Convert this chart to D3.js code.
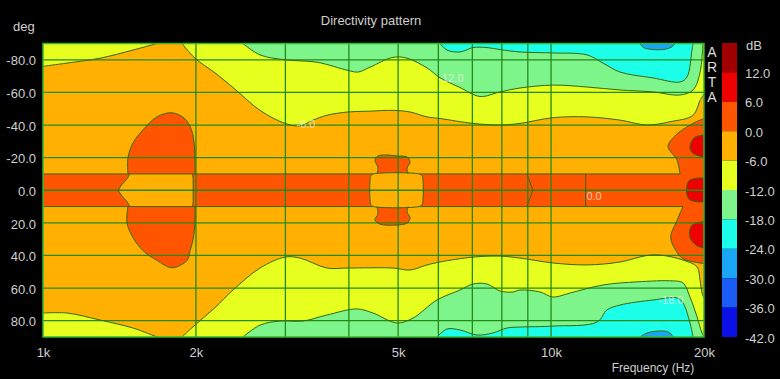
<!DOCTYPE html>
<html><head><meta charset="utf-8">
<script src="https://cdn.jsdelivr.net/npm/d3@7"></script>
<style>html,body{margin:0;padding:0;background:#000;}svg{display:block;}</style>
</head><body>
<svg id="c" width="780" height="379"></svg>
<script>
// ---------- data ----------
const freqTicks = [1000, 2000, 5000, 10000, 20000];
const gridFreqs = [2000, 3000, 4000, 5000, 6000, 7000, 8000, 9000, 10000];
const angleTicks = [-80, -60, -40, -20, 0, 20, 40, 60, 80];
const dbLevels = [18, 12, 6, 0, -6, -12, -18, -24, -30, -36, -42];
const dbColors = ["#a00000", "#ee0000", "#ff5500", "#ffb000", "#e6ff1e", "#7df58a", "#1cffe8", "#1aa5f5", "#1a5cf5", "#0a10e6"];
const artaLetters = ["A", "R", "T", "A"];

// contour boundaries [frequency Hz, angle deg]
const topYellowA = [[1000,-76],[1115,-78],[1295,-81],[1504,-86],[1676,-90]];
const topYellowB = [[1878,-90],[1991,-81],[2180,-72],[2366,-63],[2674,-49],[2995,-41],[3205,-39.5],[3400,-43],[3622,-46],[3984,-48],[4400,-48.5],[4885,-49],[5277,-48],[5700,-45],[6045,-44],[7021,-41],[7934,-40],[8687,-41],[10090,-44.5],[11770,-45],[13670,-43],[15450,-40],[17140,-42],[19030,-46],[19640,-55],[20000,-59]];
const botYellowA = [[1000,75.3],[1115,75.3],[1295,79.6],[1504,84.5],[1676,90]];
const botYellowB = [[1878,90],[1991,82.7],[2180,72],[2366,61.2],[2674,47.7],[2995,41],[3205,41.6],[3622,47.7],[3984,47.7],[4885,47.7],[5277,48.9],[5700,45.8],[6045,44],[7021,41],[7934,40.4],[8687,41.6],[10090,44.6],[11770,45.8],[13670,44],[15450,40],[16450,39.8],[18180,42.8],[19380,47],[19640,55],[19820,63],[20000,66]];
const topGreen = [[2475,-90],[2674,-83],[2995,-80],[3462,-78.5],[3984,-73.5],[4169,-72.5],[4402,-75.5],[4885,-81.5],[5206,-81],[5700,-75],[6045,-69],[6619,-63],[7247,-57.5],[7934,-60.3],[8687,-62.7],[10090,-64.5],[11770,-63.3],[13670,-61.5],[15870,-60.3],[17940,-58.4],[19030,-61.5],[19640,-72],[19900,-90]];
const botGreen = [[2475,90],[2674,82.7],[2927,80.2],[3249,80.2],[3622,76.5],[4150,72.8],[4462,75.3],[4975,81.4],[5349,78.4],[5963,67.3],[6619,61.2],[7021,57.5],[7480,57.5],[7934,61.8],[8416,62.4],[8687,61.2],[9512,62.4],[10090,65.5],[10900,63],[12650,58.1],[14760,56.2],[17380,55.6],[18180,56.8],[18770,65.5],[19380,77.7],[19820,87.5],[20000,90]];
const topCyan = [[6045,-90],[6240,-86],[6619,-84.8],[7021,-87.5],[7480,-87.5],[7934,-86.3],[8687,-84.8],[10090,-84.2],[11770,-83],[12650,-78],[13670,-72.5],[15870,-68.9],[17940,-66.4],[18520,-69.5],[18940,-86],[19030,-90]];
const botCyan = [[5963,90],[6240,85.1],[6619,85.7],[7149,88.8],[7686,87.5],[8190,84.5],[8687,83.9],[10090,83.3],[12320,80.8],[12880,73.4],[13670,70.4],[15870,67.3],[17700,66.1],[18180,69.1],[18770,81.4],[19030,90]];
const topBlue = [[14960,-90],[15200,-87.5],[15870,-86.3],[16800,-86.5],[17300,-88],[17540,-90]];
const botBlue = [[14960,90],[15450,87.5],[16610,86.3],[17140,87.5],[17380,90]];

const bandAngles = [-10, 10];
const bandSegTop = [[1000,1483],[1970,4470],[5500,17940]];
const bandSegBot = [[1000,1483],[1970,4470],[5500,18180]];
const fanTop = [[17940,-10],[17700,-18.5],[16990,-27],[17500,-33],[17940,-36],[19030,-41],[19640,-43],[20000,-44]];
const fanBot = [[18180,10],[17700,18.5],[17200,29],[17700,38],[18180,42],[19640,44.6],[20000,45]];
const lobe2kTop = [[1470,-10],[1470,-20],[1504,-29],[1573,-37],[1676,-45],[1795,-47.5],[1900,-44],[1960,-37],[1985,-28],[1991,-20],[1993,-10]];
const lobe2kBot = [[1470,10],[1463,20],[1504,29],[1573,37],[1676,43],[1795,47.5],[1921,43],[1947,37],[1975,30],[1991,20],[1993,10]];
const lobe5kTop = [[4543,-10],[4563,-14],[4502,-18.5],[4563,-21],[4754,-21.6],[4975,-21],[5206,-20.4],[5277,-17.3],[5206,-13.6],[5230,-10]];
const lobe5kBot = [[4543,10],[4563,14.5],[4502,18.2],[4600,20.7],[4975,21.3],[5206,20.1],[5277,17],[5206,13.3],[5230,10]];
const box2k = [[1483,-10],[1970,-10],[1975,-7],[1975,7],[1970,10],[1483,10],[1463,7],[1430,3.5],[1405,0],[1430,-3.5],[1463,-7]];
const box5k = [[4402,-6],[4420,-9],[4470,-10],[5500,-10],[5570,-9],[5597,-6],[5597,6],[5570,9],[5500,10],[4470,10],[4420,9],[4402,6]];
const spotTop = [[18770,-27],[19100,-32],[19640,-33.5],[20500,-33.5],[20500,-20.5],[19380,-21.5],[18900,-23.5]];
const spotMid = [[18520,-3],[18770,-6.3],[20500,-6.3],[20500,6],[18770,6],[18520,3]];
const spotBot = [[18770,24],[19030,21],[20500,20],[20500,35],[19380,34],[18770,29]];
const chevron9k = [[8966,-10],[9210,0],[8966,10]];
const line12k = [[11700,-10],[11700,10]];
const contourLabels = [{f:3293,a:-40.6,t:"-6.0"},{f:6354,a:-68.6,t:"-12.0"},{f:12150,a:3.5,t:"0.0"},{f:17220,a:67.3,t:"-18.0"}];

// ---------- drawing ----------
const FONT = '"Liberation Sans", Arial, sans-serif';
const TXT = "#cfcfcf";
const svg = d3.select("#c");
svg.append("rect").attr("width",780).attr("height",379).attr("fill","#000");

const x = d3.scaleLog().domain([1000,20000]).range([43,704]);
const y = d3.scaleLinear().domain([-90,90]).range([43.5,337]);
const color = d3.scaleThreshold().domain(dbLevels.slice(1,-1).reverse()).range(dbColors.slice().reverse());

const lineC = d3.line().x(d=>x(d[0])).y(d=>y(d[1])).curve(d3.curveCatmullRom.alpha(0.5));
const lineL = d3.line().x(d=>x(d[0])).y(d=>y(d[1]));
const lineCC = d3.line().x(d=>x(d[0])).y(d=>y(d[1])).curve(d3.curveCatmullRomClosed.alpha(0.5));
const lineLC = d3.line().x(d=>x(d[0])).y(d=>y(d[1])).curve(d3.curveLinearClosed);

svg.append("clipPath").attr("id","clip").append("rect")
  .attr("x",x(1000)).attr("y",y(-90)).attr("width",x(20000)-x(1000)).attr("height",y(90)-y(-90));

const gFill = svg.append("g").attr("clip-path","url(#clip)");
const gGrid = svg.append("g").attr("clip-path","url(#clip)");
const gLines = svg.append("g").attr("clip-path","url(#clip)");

const CONTOUR = "#35680f", GRID = "#258a1a";

gFill.append("rect").attr("x",x(1000)).attr("y",y(-90)).attr("width",x(20000)-x(1000)).attr("height",y(90)-y(-90)).attr("fill",color(-3));

const edgeRegions = [
  {pts:topYellowA,edge:-90,db:-9},{pts:topYellowB,edge:-90,db:-9},
  {pts:botYellowA,edge:90,db:-9},{pts:botYellowB,edge:90,db:-9},
  {pts:topGreen,edge:-90,db:-15},{pts:botGreen,edge:90,db:-15},
  {pts:topCyan,edge:-90,db:-21},{pts:botCyan,edge:90,db:-21},
  {pts:topBlue,edge:-90,db:-27},{pts:botBlue,edge:90,db:-27}
];
edgeRegions.forEach(r=>{
  const p = r.pts, a = p[0], b = p[p.length-1];
  const d = lineC(p) + `L${x(b[0])},${y(r.edge)}L${x(a[0])},${y(r.edge)}Z`;
  gFill.append("path").attr("d",d).attr("fill",color(r.db));
  gLines.append("path").attr("d",lineC(p)).attr("fill","none").attr("stroke",CONTOUR).attr("stroke-width",1);
});

gFill.append("rect").attr("x",x(1000)).attr("y",y(bandAngles[0])).attr("width",x(20000)-x(1000))
  .attr("height",y(bandAngles[1])-y(bandAngles[0])).attr("fill",color(3));
gFill.append("path").attr("d", lineC(fanTop) + lineC(fanBot.slice().reverse()).replace(/^M/,"L") + "Z").attr("fill",color(3));
gFill.append("path").attr("d", lineC(lobe2kTop) + lineC(lobe2kBot.slice().reverse()).replace(/^M/,"L") + "Z").attr("fill",color(3));
gFill.append("path").attr("d", lineC(lobe5kTop) + "Z").attr("fill",color(3));
gFill.append("path").attr("d", lineC(lobe5kBot) + "Z").attr("fill",color(3));
gFill.append("path").attr("d", lineLC(box2k)).attr("fill",color(-3));
gFill.append("path").attr("d", lineCC(box5k)).attr("fill",color(-3));
[spotTop, spotMid, spotBot].forEach(s=>{
  gFill.append("path").attr("d", lineCC(s)).attr("fill",color(9));
  gLines.append("path").attr("d", lineCC(s)).attr("fill","none").attr("stroke",CONTOUR).attr("stroke-width",1);
});

[fanTop, fanBot, lobe2kTop, lobe2kBot, lobe5kTop, lobe5kBot].forEach(p=>{
  gLines.append("path").attr("d",lineC(p)).attr("fill","none").attr("stroke",CONTOUR).attr("stroke-width",1);
});
gLines.append("path").attr("d",lineLC(box2k)).attr("fill","none").attr("stroke",CONTOUR).attr("stroke-width",1);
gLines.append("path").attr("d",lineCC(box5k)).attr("fill","none").attr("stroke",CONTOUR).attr("stroke-width",1);
bandSegTop.forEach(s=>gLines.append("path").attr("d",lineL([[s[0],bandAngles[0]],[s[1],bandAngles[0]]])).attr("stroke",CONTOUR).attr("stroke-width",1));
bandSegBot.forEach(s=>gLines.append("path").attr("d",lineL([[s[0],bandAngles[1]],[s[1],bandAngles[1]]])).attr("stroke",CONTOUR).attr("stroke-width",1));
[chevron9k, line12k].forEach(p=>gLines.append("path").attr("d",lineL(p)).attr("fill","none").attr("stroke",CONTOUR).attr("stroke-width",1));

gridFreqs.forEach(f=>gGrid.append("line").attr("x1",x(f)).attr("x2",x(f)).attr("y1",y(-90)).attr("y2",y(90)).attr("stroke",GRID).attr("stroke-width",1.3));
angleTicks.forEach(a=>gGrid.append("line").attr("x1",x(1000)).attr("x2",x(20000)).attr("y1",y(a)).attr("y2",y(a)).attr("stroke",GRID).attr("stroke-width",1.3));

contourLabels.forEach(l=>svg.append("text").attr("x",x(l.f)).attr("y",y(l.a)+4).attr("text-anchor","middle")
  .attr("font-family",FONT).attr("font-size",11).attr("fill","#f2f2f2").attr("fill-opacity",0.75).text(l.t));

svg.append("rect").attr("x",x(1000)).attr("y",y(-90)).attr("width",x(20000)-x(1000)).attr("height",y(90)-y(-90))
  .attr("fill","none").attr("stroke","#2fb82f").attr("stroke-width",1.5);

const yAxis = svg.append("g").attr("transform",`translate(${x(1000)},1)`)
  .call(d3.axisLeft(y).tickValues(angleTicks).tickFormat(d=>d.toFixed(1)).tickSize(0).tickPadding(7));
const xAxis = svg.append("g").attr("transform",`translate(0,${y(90)})`)
  .call(d3.axisBottom(x).tickValues(freqTicks).tickFormat(d=>(d/1000)+"k").tickSize(0).tickPadding(11));
[yAxis, xAxis].forEach(g=>{
  g.select(".domain").remove();
  g.attr("font-family",FONT).attr("font-size",13);
  g.selectAll("text").attr("fill",TXT);
});

const yc = d3.scaleLinear().domain([dbLevels[0], dbLevels[dbLevels.length-1]]).range([43,337]);
dbColors.forEach((c,i)=>svg.append("rect").attr("x",722).attr("width",15)
  .attr("y",yc(dbLevels[i])).attr("height",yc(dbLevels[i+1])-yc(dbLevels[i])).attr("fill",c));
const cAxis = svg.append("g").attr("transform","translate(737,1)")
  .call(d3.axisRight(yc).tickValues(dbLevels.slice(1)).tickFormat(d=>d.toFixed(1)).tickSize(0).tickPadding(8));
cAxis.select(".domain").remove();
cAxis.attr("font-family",FONT).attr("font-size",13);
cAxis.selectAll("text").attr("fill",TXT);

svg.append("text").attr("x",371).attr("y",25).attr("text-anchor","middle").attr("font-family",FONT).attr("font-size",13).attr("fill",TXT).text("Directivity pattern");
svg.append("text").attr("x",13).attr("y",31).attr("font-family",FONT).attr("font-size",13).attr("fill",TXT).text("deg");
svg.append("text").attr("x",746).attr("y",50).attr("font-family",FONT).attr("font-size",13).attr("fill",TXT).text("dB");
svg.append("text").attr("x",653).attr("y",372).attr("text-anchor","middle").attr("font-family",FONT).attr("font-size",12).attr("fill",TXT).text("Frequency (Hz)");
artaLetters.forEach((t,i)=>svg.append("text").attr("x",712).attr("y",57+15*i).attr("text-anchor","middle")
  .attr("font-family",FONT).attr("font-size",14).attr("fill","#dcdcdc").text(t));
</script>
</body></html>
